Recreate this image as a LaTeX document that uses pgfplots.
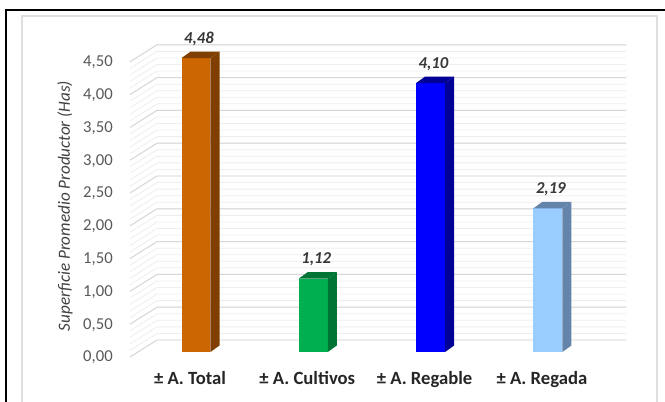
\documentclass[border=0pt]{standalone}
\usepackage{fontspec}
\setmainfont{Carlito}
\usepackage{pgfplots}
\pgfplotsset{compat=1.18}
\definecolor{orF}{RGB}{204,102,0}
\definecolor{orS}{RGB}{128,62,0}
\definecolor{grF}{RGB}{0,176,80}
\definecolor{grS}{RGB}{0,116,52}
\definecolor{blF}{RGB}{0,0,255}
\definecolor{blS}{RGB}{0,0,150}
\definecolor{lbF}{RGB}{153,204,255}
\definecolor{lbS}{RGB}{100,132,172}
\definecolor{txt}{RGB}{89,89,89}
\definecolor{ttxt}{RGB}{64,64,64}
\definecolor{vtxt}{RGB}{56,56,56}
\definecolor{ctxt}{RGB}{38,38,38}
\definecolor{minorc}{RGB}{238,238,238}
\definecolor{majorc}{RGB}{215,215,215}
\begin{document}
\begin{tikzpicture}
\useasboundingbox (0,0) rectangle (498.75pt,301.5pt);
\fill[white] (0,0) rectangle (498.75pt,301.5pt);
% outer black frame and inner grey frame
\draw[line width=1.6pt] (4.5pt,-10pt) -- (4.5pt,294pt) -- (510pt,294pt);
\draw[gray!25, line width=0.9pt] (16.5pt,-10pt) -- (16.5pt,289.5pt) -- (492.75pt,289.5pt) -- (492.75pt,-10pt);
% back and side wall grid lines
\foreach \i in {0,...,45}{
  \draw[minorc, line width=0.6pt] (97.5pt,{(33.75+4.92*\i)*1pt}) -- (117.75pt,{(46.5+4.92*\i)*1pt}) -- (469.5pt,{(46.5+4.92*\i)*1pt});
}
\foreach \i in {0,...,9}{
  \draw[majorc, line width=0.7pt] (97.5pt,{(33.75+24.6*\i)*1pt}) -- (117.75pt,{(46.5+24.6*\i)*1pt}) -- (469.5pt,{(46.5+24.6*\i)*1pt});
}
% y title
\node[rotate=90, font=\fontsize{12.8}{14}\selectfont\itshape, text=ttxt] at (48.75pt,147pt) {Superficie Promedio Productor (Has)};
\begin{axis}[
  at={(147pt,37.5pt)}, anchor=origin,
  x=87.975pt, y=49.2pt,
  xmin=-0.563, xmax=3.666, ymin=-0.076, ymax=4.683,
  axis line style={draw=none},
  major tick length=0pt,
  clip=false,
  ytick={0,0.5,1,1.5,2,2.5,3,3.5,4,4.5},
  xtick={0,1,2,3},
  xticklabels={{± A. Total},{± A. Cultivos},{± A. Regable},{± A. Regada}},
  /pgf/number format/.cd, use comma, fixed, fixed zerofill, precision=2, assume math mode=true,
  /pgfplots/.cd,
  yticklabel style={anchor=base east, inner sep=0pt, xshift=-12.75pt, yshift=-7.5pt,
    font=\fontsize{12.5}{14}\selectfont, text=txt},
  xticklabel style={anchor=base, inner sep=0pt, xshift=-4.5pt, yshift=-21pt,
    font=\fontsize{14}{16}\selectfont\bfseries, text=ctxt},
  every node near coord/.style={anchor=base, xshift=2.2pt, yshift=10.9pt,
    font=\fontsize{12.5}{14}\selectfont\bfseries\itshape, text=vtxt},
]
% front faces (data)
\addplot[ybar, bar shift=0pt, bar width=0.247, fill=orF, draw=none, nodes near coords] coordinates {(0,4.48)};
\addplot[ybar, bar shift=0pt, bar width=0.247, fill=grF, draw=none, nodes near coords] coordinates {(1,1.12)};
\addplot[ybar, bar shift=0pt, bar width=0.247, fill=blF, draw=none, nodes near coords] coordinates {(2,4.10)};
\addplot[ybar, bar shift=0pt, bar width=0.247, fill=lbF, draw=none, nodes near coords] coordinates {(3,2.19)};
% side faces
\addplot[fill=orS, draw=none] coordinates {(0.1235,0) (0.2005,0.099) (0.2005,4.579) (0.1235,4.48)} -- cycle;
\addplot[fill=grS, draw=none] coordinates {(1.1235,0) (1.2005,0.099) (1.2005,1.219) (1.1235,1.12)} -- cycle;
\addplot[fill=blS, draw=none] coordinates {(2.1235,0) (2.2005,0.099) (2.2005,4.199) (2.1235,4.10)} -- cycle;
\addplot[fill=lbS, draw=none] coordinates {(3.1235,0) (3.2005,0.099) (3.2005,2.289) (3.1235,2.19)} -- cycle;
% top faces
\addplot[fill=orS, draw=none] coordinates {(-0.1235,4.48) (0.1235,4.48) (0.2005,4.579) (-0.0465,4.579)} -- cycle;
\addplot[fill=grS, draw=none] coordinates {(0.8765,1.12) (1.1235,1.12) (1.2005,1.219) (0.9535,1.219)} -- cycle;
\addplot[fill=blS, draw=none] coordinates {(1.8765,4.10) (2.1235,4.10) (2.2005,4.199) (1.9535,4.199)} -- cycle;
\addplot[fill=lbS, draw=none] coordinates {(2.8765,2.19) (3.1235,2.19) (3.2005,2.289) (2.9535,2.289)} -- cycle;
\end{axis}
\end{tikzpicture}
\end{document}
